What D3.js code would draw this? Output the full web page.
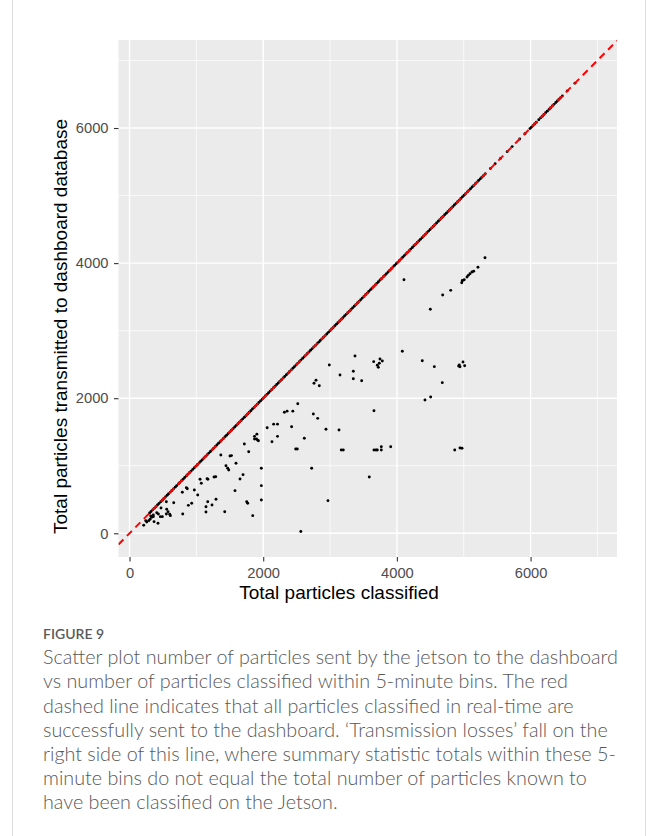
<!DOCTYPE html>
<html>
<head>
<meta charset="utf-8">
<script src="https://d3js.org/d3.v7.min.js"></script>
<style>
  body { margin: 0; background: #fff; }
  svg { display: block; }
</style>
</head>
<body>
<div id="chart"></div>
<script>

// 5-minute bins where every classified particle reached the dashboard (transmitted == classified)
var matched = [
  300, 322, 347, 369, 395, 418, 441, 468, 490, 514, 537, 563, 585, 610, 634, 657, 683, 705, 731, 752,
  778, 801, 826, 850, 873, 899, 921, 946, 970, 994, 1018, 1043, 1066, 1091, 1114, 1139, 1162, 1187, 1211, 1235,
  1259, 1284, 1307, 1332, 1356, 1380, 1404, 1429, 1452, 1477, 1501, 1525, 1549, 1574, 1597, 1622, 1646, 1670, 1694, 1719,
  1742, 1767, 1791, 1815, 1839, 1864, 1887, 1912, 1936, 1960, 1984, 2009, 2032, 2057, 2081, 2105, 2129, 2154, 2177, 2202,
  2226, 2250, 2274, 2299, 2322, 2347, 2371, 2395, 2419, 2444, 2467, 2492, 2516, 2540, 2564, 2589, 2612, 2637, 2661, 2685,
  2709, 2734, 2757, 2782, 2806, 2830, 2854, 2879, 2902, 2927, 2951, 2975, 2999, 3024, 3047, 3072, 3096, 3120, 3144, 3169,
  3192, 3217, 3241, 3265, 3289, 3314, 3337, 3362, 3386, 3410, 3434, 3459, 3482, 3507, 3531, 3555, 3579, 3604, 3627, 3652,
  3676, 3700, 3724, 3749, 3772, 3797, 3821, 3845, 3869, 3894, 3917, 3942, 3966, 3990, 4014, 4039, 4062, 4087, 4111, 4135,
  4159, 4184, 4207, 4232, 4256, 4280, 4304, 4329, 4352, 4377, 4401, 4425, 4449, 4474, 4497, 4522, 4546, 4570, 4594, 4619,
  4642, 4667, 4691, 4715, 4739, 4764, 4787, 4812, 4836, 4860, 4884, 4909, 4932, 4957, 4981, 5005, 5029, 5054, 5077, 5102,
  5126, 5150, 5174, 5199, 5222, 5247, 5271, 5295, 5320,
  5400, 5470, 5550, 5650, 5725, 5838, 5916, 5991, 6010, 6035, 6060, 6085, 6123, 6150, 6175, 6200, 6225, 6250, 6278, 6300,
  6325, 6350, 6378, 6400, 6425, 6450, 6475, 6550, 6664
]

// bins with transmission losses: [classified, transmitted]
var lossy = [
  [212,118],[242,187],[257,167],[287,187],[307,207],[317,256],[332,237],[356,271],[356,246],[367,172],
  [407,305],[426,148],[431,286],[461,246],[471,375],[491,246],[551,286],[551,468],[556,355],[576,320],
  [601,281],[611,261],[661,453],[790,607],[796,286],[850,675],[864,660],[880,414],[930,444],[970,641],
  [1020,567],[1055,799],[1074,740],[1144,394],[1144,315],[1160,808],[1172,800],[1170,468],[1234,419],[1264,833],
  [1290,838],[1294,503],[1366,1158],[1424,320],[1443,1000],[1469,962],[1484,937],[1503,1144],[1525,1150],[1578,631],
  [1593,1036],[1653,804],[1698,868],[1718,1322],[1753,468],[1768,444],[1783,1208],[1843,261],[1870,1435],[1870,1397],
  [1899,1397],[1905,1468],[1915,1380],[1928,1370],[1972,962],[1972,705],[1972,493],[2059,1562],[2131,1356],[2156,1616],
  [2214,1616],[2214,1435],[2317,1792],[2357,1808],[2425,1578],[2443,1808],[2486,1248],[2510,1248],[2517,1918],[2563,27],
  [2615,1406],[2725,962],[2750,1766],[2760,2221],[2790,2265],[2815,1702],[2839,2185],[2939,1540],[2969,483],[2989,2491],
  [3134,1529],[3149,2343],[3168,1233],[3198,1233],[3348,2398],[3348,2289],[3373,2625],[3473,2259],[3587,833],[3653,2541],
  [3657,1815],[3657,1233],[3687,1233],[3707,1233],[3707,2487],[3722,2457],[3737,2517],[3747,2580],[3767,1282],[3767,1233],
  [3782,2550],[3907,1282],[4081,2694],[4106,3754],[4380,2555],[4420,1973],[4500,3316],[4505,2018],[4560,2467],[4679,2230],
  [4685,3528],[4805,3597],[4865,1233],[4924,2477],[4934,2491],[4944,2466],[4944,1263],[4974,1258],[4970,3710],[4978,3739],
  [4984,3745],[4989,2536],[5008,3754],[5014,2481],[5049,3794],[5068,3819],[5094,3843],[5123,3868],[5149,3879],[5213,3938],
  [5318,4080]
]

var majorTicks = [0, 2000, 4000, 6000]
var minorTicks = [1000, 3000, 5000, 7000]
var xDomain = [-165, 7293]
var yDomain = [-351, 7303]

var xTitle = 'Total particles classified'
var yTitle = 'Total particles transmitted to dashboard database'
var figLabel = 'FIGURE 9'
var captionLines = [
  'Scatter plot number of particles sent by the jetson to the dashboard',
  'vs number of particles classified within 5-minute bins. The red',
  'dashed line indicates that all particles classified in real-time are',
  'successfully sent to the dashboard. \u2018Transmission losses\u2019 fall on the',
  'right side of this line, where summary statistic totals within these 5-',
  'minute bins do not equal the total number of particles known to',
  'have been classified on the Jetson.'
]

var points = matched.map(function(v){ return {x: v, y: v} })
  .concat(lossy.map(function(d){ return {x: d[0], y: d[1]} }))

var totalWidth = 658, totalHeight = 836
var margin = {left: 118.5, top: 40, right: 41, bottom: 279}
var width = totalWidth - margin.left - margin.right
var height = totalHeight - margin.top - margin.bottom
var axisFont = '"Liberation Sans", Arial, Helvetica, sans-serif'

var svg = d3.select('#chart').append('svg')
  .attr('width', totalWidth)
  .attr('height', totalHeight)

// frame around the figure
svg.append('rect')
  .attr('x', 12.5).attr('y', -10)
  .attr('width', 633).attr('height', totalHeight + 20)
  .attr('fill', 'none').attr('stroke', '#dcdcdc')

var g = svg.append('g').attr('transform', 'translate(' + margin.left + ',' + margin.top + ')')

var x = d3.scaleLinear().domain(xDomain).range([0, width])
var y = d3.scaleLinear().domain(yDomain).range([height, 0])

g.append('rect').attr('width', width).attr('height', height).attr('fill', '#EBEBEB')

g.append('clipPath').attr('id', 'panel')
  .append('rect').attr('width', width).attr('height', height)

// grid, minor first
g.selectAll('line.vminor').data(minorTicks).enter().append('line')
  .attr('x1', x).attr('x2', x).attr('y1', 0).attr('y2', height)
  .attr('stroke', '#fff').attr('stroke-width', 0.7)
g.selectAll('line.hminor').data(minorTicks).enter().append('line')
  .attr('y1', y).attr('y2', y).attr('x1', 0).attr('x2', width)
  .attr('stroke', '#fff').attr('stroke-width', 0.7)
g.selectAll('line.vmajor').data(majorTicks).enter().append('line')
  .attr('x1', x).attr('x2', x).attr('y1', 0).attr('y2', height)
  .attr('stroke', '#fff').attr('stroke-width', 1.4)
g.selectAll('line.hmajor').data(majorTicks).enter().append('line')
  .attr('y1', y).attr('y2', y).attr('x1', 0).attr('x2', width)
  .attr('stroke', '#fff').attr('stroke-width', 1.4)

var plot = g.append('g').attr('clip-path', 'url(#panel)')

plot.selectAll('circle').data(points).enter().append('circle')
  .attr('cx', function(d){ return x(d.x) })
  .attr('cy', function(d){ return y(d.y) })
  .attr('r', 1.45)
  .attr('fill', '#000')

// y = x reference line
plot.append('line')
  .attr('x1', x(xDomain[0])).attr('y1', y(xDomain[0]))
  .attr('x2', x(xDomain[1])).attr('y2', y(xDomain[1]))
  .attr('stroke', '#FF0000').attr('stroke-width', 2)
  .attr('stroke-dasharray', '7,5')

var fmt = d3.format('d')
var xAxis = d3.axisBottom(x).tickValues(majorTicks).tickFormat(fmt).tickSize(4.5).tickSizeOuter(0).tickPadding(6)
var yAxis = d3.axisLeft(y).tickValues(majorTicks).tickFormat(fmt).tickSize(4.5).tickSizeOuter(0).tickPadding(5.5)

function styleAxis(sel){
  sel.attr('font-family', axisFont).attr('font-size', 14.7)
  sel.select('.domain').remove()
  sel.selectAll('.tick line').attr('stroke', '#333').attr('stroke-width', 1.1)
  sel.selectAll('.tick text').attr('fill', '#4D4D4D')
}

g.append('g').attr('transform', 'translate(0,' + height + ')').call(xAxis).call(styleAxis)
g.append('g').call(yAxis).call(styleAxis)

svg.append('text')
  .attr('x', 339).attr('y', 598.5)
  .attr('text-anchor', 'middle')
  .attr('font-family', axisFont)
  .attr('font-size', 19)
  .attr('fill', '#000')
  .text(xTitle)

svg.append('text')
  .attr('transform', 'translate(67,326.5) rotate(-90)')
  .attr('text-anchor', 'middle')
  .attr('font-family', axisFont)
  .attr('font-size', 19)
  .attr('fill', '#000')
  .text(yTitle)

// caption
svg.append('text')
  .attr('x', 43).attr('y', 639)
  .attr('font-family', 'Lato, "Open Sans", sans-serif')
  .attr('font-size', 14)
  .attr('font-weight', 600)
  .attr('fill', '#5a5a5a')
  .text(figLabel)

var cap = svg.append('g')
  .attr('font-family', 'Lato, "Open Sans", sans-serif')
  .attr('font-weight', 300)
  .attr('fill', '#585858')

cap.selectAll('text').data(captionLines).enter().append('text')
  .attr('x', 43)
  .attr('y', function(d, i){ return 664.3 + i * 24.15 })
  .attr('font-size', 18)
  .text(function(d){ return d })

// fit the first line to its width in the figure
var w0 = cap.select('text').node().getComputedTextLength()
cap.selectAll('text').attr('font-size', (18 * 575 / w0).toFixed(2))

</script>
</body>
</html>
